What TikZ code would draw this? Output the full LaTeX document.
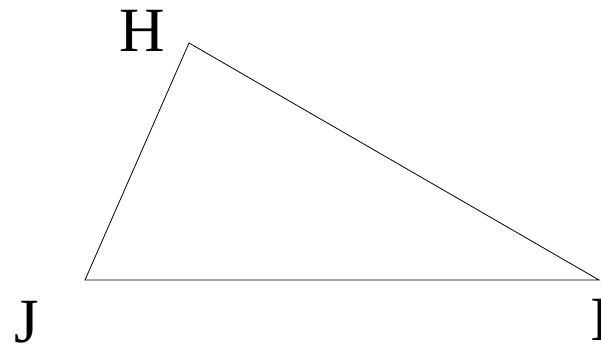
\documentclass[tikz,border=0pt]{standalone}
\usepackage{fontspec}
\setmainfont{Liberation Serif}
\usepackage{tikz}

\begin{document}
\begin{tikzpicture}[
  x=1pt, y=1pt,
  every node/.style={font=\fontsize{63}{63}\selectfont, inner sep=0pt},
  vlabel/.style={anchor=base},
  side/.style={draw=black, line width=0.8pt, line join=miter}
]
\useasboundingbox (0,0) rectangle (601,-347);

% Vertices
\coordinate (h) at (189,-43);
\coordinate (j) at (85,-280);
\coordinate (i) at (599,-280);

% Labels
\node[vlabel] (hl) at (142.5,-52) {H};
\node[vlabel] (jl) at (27,-342) {J};
\node[vlabel] (il) at (600.5,-340) {I};

% Triangle
\draw[side] (h) -- (j) -- (i) -- cycle;

\end{tikzpicture}
\end{document}
